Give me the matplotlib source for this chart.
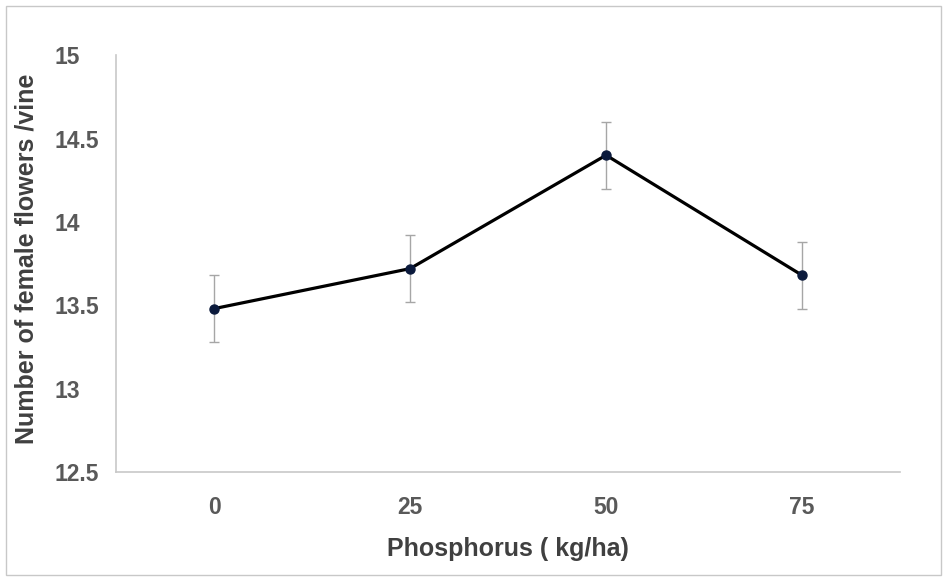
import matplotlib.pyplot as plt
from matplotlib.patches import Rectangle

# Data
phosphorus = ['0', '25', '50', '75']
flowers = [13.48, 13.72, 14.40, 13.68]
errors = [0.20, 0.20, 0.20, 0.20]
y_ticks = [12.5, 13, 13.5, 14, 14.5, 15]

plt.rcParams['font.family'] = ['Liberation Sans', 'DejaVu Sans']
plt.rcParams['font.weight'] = 'bold'

fig = plt.figure(figsize=(9.47, 5.80), dpi=100)
ax = fig.add_axes([0.1225, 0.186, 0.828, 0.719])

x = list(range(len(phosphorus)))
ax.errorbar(x, flowers, yerr=errors, fmt='none', ecolor='#a6a6a6',
            elinewidth=1, capsize=3.5, capthick=1, zorder=2)
ax.plot(x, flowers, color='black', linewidth=2.3, zorder=3)
ax.plot(x, flowers, 'o', color='#0b1a3c', markersize=6.5, zorder=4)

ax.set_xlim(-0.5, 3.5)
ax.set_ylim(12.5, 15)
ax.set_xticks(x)
ax.set_xticklabels(phosphorus)
ax.set_yticks(y_ticks)
ax.set_yticklabels(['12.5', '13', '13.5', '14', '14.5', '15'])

for s in ['top', 'right']:
    ax.spines[s].set_visible(False)
for s in ['left', 'bottom']:
    ax.spines[s].set_color('#c8c8c8')
    ax.spines[s].set_linewidth(1.2)

ax.tick_params(axis='both', length=0, labelsize=16.5, labelcolor='#595959')
ax.tick_params(axis='x', pad=17)
ax.tick_params(axis='y', pad=44)
for lbl in ax.get_yticklabels():
    lbl.set_horizontalalignment('left')

ax.set_xlabel('Phosphorus ( kg/ha)', fontsize=18, color='#404040',
              fontweight='bold', labelpad=13)
ax.set_ylabel('Number of female flowers /vine', fontsize=18, color='#404040',
              fontweight='bold', labelpad=0)
ax.yaxis.set_label_coords(-0.099, 0.512)

# thin border around the whole chart area
fig.patches.append(Rectangle((6 / 947, 5 / 580), 935 / 947, 569 / 580,
                             transform=fig.transFigure, fill=False,
                             edgecolor='#c8c8c8', linewidth=1))

fig.savefig('out.png', dpi=100)
